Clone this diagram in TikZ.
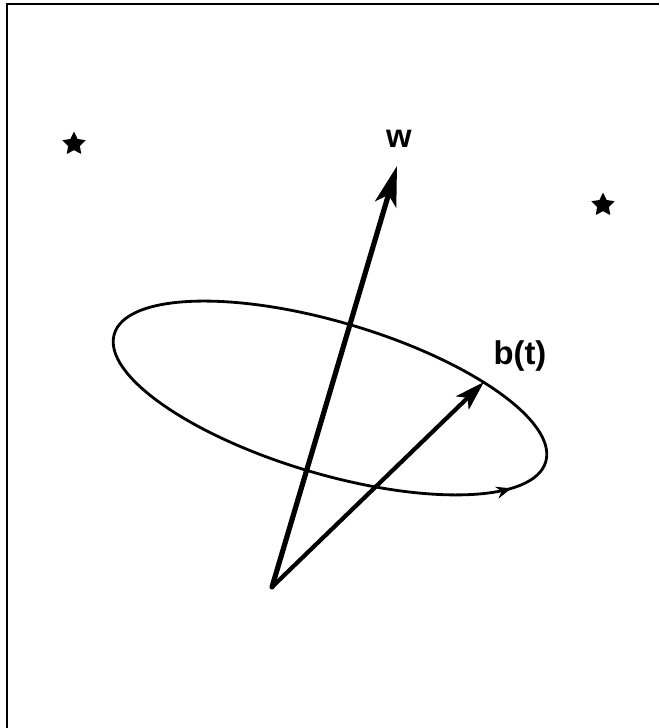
\documentclass[tikz,border=0pt]{standalone}
\usepackage{fontspec}
\setmainfont{Liberation Sans}
\usetikzlibrary{arrows.meta,shapes.geometric,decorations.markings}

\begin{document}
\begin{tikzpicture}[x=0.03cm, y=-0.03cm, >=Stealth]
    \tikzstyle{vecw}  = [line width=4.4pt, line cap=round, -{Stealth[length=1.2cm, width=0.66cm, inset=0.3cm]}]
    \tikzstyle{vecb}  = [line width=3.6pt, line cap=round, -{Stealth[length=0.9cm, width=0.55cm, inset=0.22cm]}]
    \tikzstyle{orbit} = [line width=2.4pt, postaction={decorate}, decoration={markings, mark=at position 0.045 with {\arrowreversed{Stealth[length=0.45cm, width=0.36cm]}}}]
    \tikzstyle{starry} = [star, star points=5, star point ratio=2.0, fill=black, inner sep=0pt, minimum size=0.74cm]
    \tikzstyle{lbl}   = [font=\fontsize{28}{32}\selectfont\bfseries, inner sep=0pt]

    \useasboundingbox (0,0) rectangle (659,728);

    % Frame
    \draw [line width=1.6pt] (7,728) -- (7,4) -- (659,4);

    % Stars
    \node [starry] (starl) at (74,144) {};
    \node [starry] (starr) at (603,205) {};

    % Orbit of b(t)
    \coordinate (c) at (330,398);
    \draw [orbit, rotate around={-16.5:(c)}] (c) ellipse [x radius=225, y radius=76];

    % Vectors
    \coordinate (o) at (272,587);
    \coordinate (wtip) at (397,166);
    \coordinate (btip) at (484,382);
    \draw [vecw] (o) -- (wtip);
    \draw [vecb] (o) -- (btip);

    % Labels
    \node [lbl] (wlabel) at (399,139) {w};
    \node [lbl] (blabel) at (520,356) {b(t)};
\end{tikzpicture}
\end{document}
